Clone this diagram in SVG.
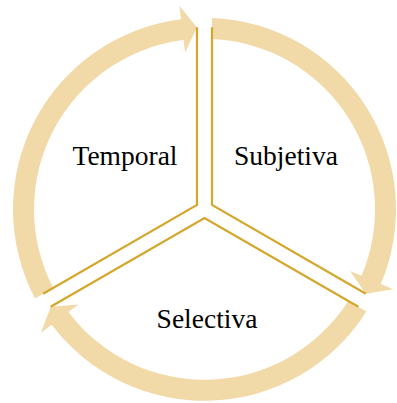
<svg xmlns="http://www.w3.org/2000/svg" xmlns:xlink="http://www.w3.org/1999/xlink" width="397" height="403" viewBox="0 0 397 403">
  <style>
    .arrow { fill: #F2DAA8; stroke: none; }
    .divider { fill: none; stroke: #D4A72C; stroke-width: 2.2; stroke-linejoin: miter; }
    .label { font-family: "Liberation Serif", "Times New Roman", serif; font-size: 27.5px; fill: #000000; text-anchor: middle; }
  </style>
  <defs>
    <path id="cycleArrow" class="arrow" d="M 212,17.95 A 191.5 191.5 0 0 1 380.85,283.94 L 393.28,289.20 L 365.73,293.73 L 350.0,270.88 L 361.51,275.76 A 170.5 170.5 0 0 0 212,38.96 Z"/>
    <polyline id="vee" class="divider" points="212,27.3 212,204.97 365.87,293.8"/>
  </defs>
  <g id="cycle-arrows">
    <use xlink:href="#cycleArrow" href="#cycleArrow"/>
    <use xlink:href="#cycleArrow" href="#cycleArrow" transform="rotate(120 204.5 209.3)"/>
    <use xlink:href="#cycleArrow" href="#cycleArrow" transform="rotate(240 204.5 209.3)"/>
  </g>
  <g id="connectors">
    <use xlink:href="#vee" href="#vee"/>
    <use xlink:href="#vee" href="#vee" transform="rotate(120 204.5 209.3)"/>
    <use xlink:href="#vee" href="#vee" transform="rotate(240 204.5 209.3)"/>
  </g>
  <g id="node-temporal">
    <text class="label" x="125" y="165">Temporal</text>
  </g>
  <g id="node-subjetiva">
    <text class="label" x="286" y="165">Subjetiva</text>
  </g>
  <g id="node-selectiva">
    <text class="label" x="207" y="328">Selectiva</text>
  </g>
</svg>
